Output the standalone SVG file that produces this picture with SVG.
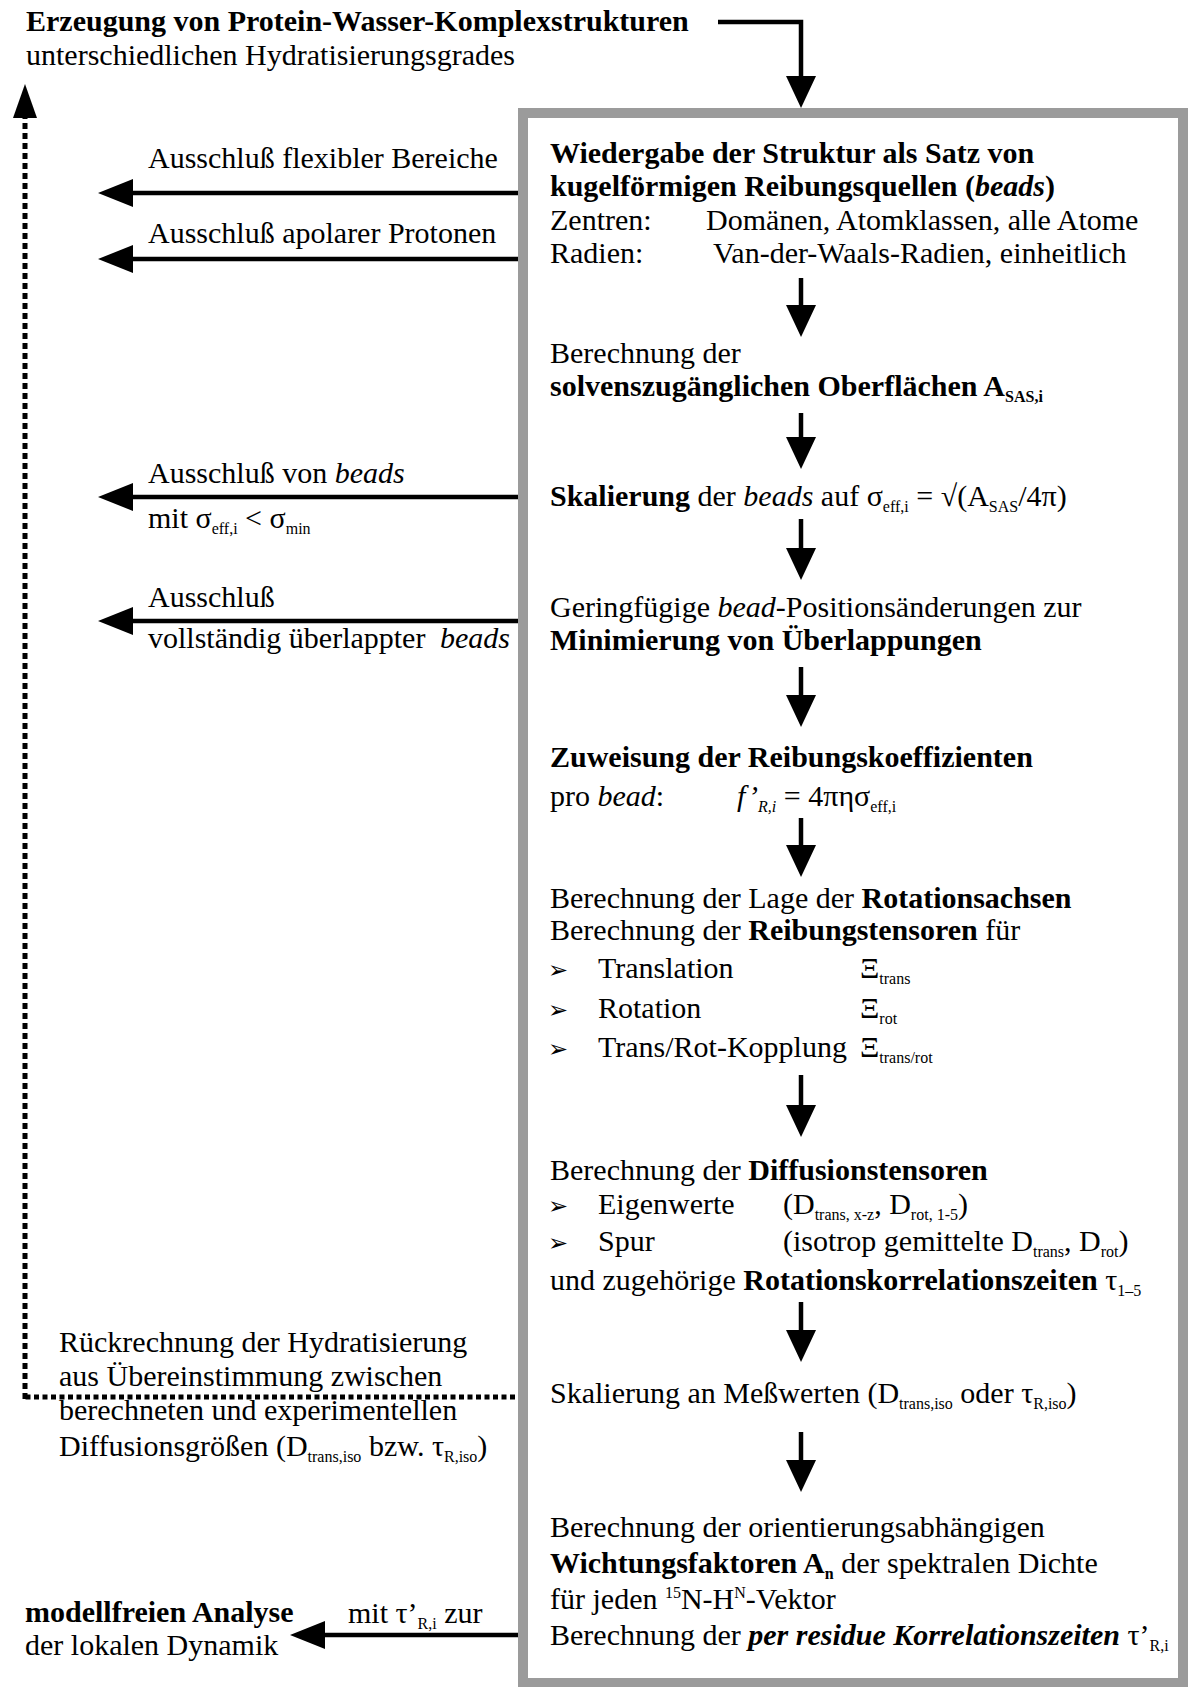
<svg xmlns="http://www.w3.org/2000/svg" width="1188" height="1687" viewBox="0 0 1188 1687">
<style>
.t{font-family:"Liberation Serif","Times New Roman",serif;font-size:30px;fill:#000}
.b{font-weight:bold}
.i{font-style:italic}
.sub{font-size:16px}
.bul{font-family:"DejaVu Sans",sans-serif;font-size:24px}
.ln{fill:none;stroke:#000;stroke-width:4.5}
.dashv{fill:none;stroke:#000;stroke-width:5;stroke-dasharray:6 4}
.dashh{fill:none;stroke:#000;stroke-width:5;stroke-dasharray:5 3.5}
.frame{fill:#fff;stroke:#9b9b9b;stroke-width:10}
</style>
<defs>
<marker id="hL" viewBox="0 0 35 28" refX="0" refY="14" markerWidth="35" markerHeight="28" markerUnits="userSpaceOnUse" orient="auto"><path d="M0,0 L35,14 L0,28 z" fill="#000"/></marker>
<marker id="hD" viewBox="0 0 32 30" refX="0" refY="15" markerWidth="32" markerHeight="30" markerUnits="userSpaceOnUse" orient="auto"><path d="M0,0 L32,15 L0,30 z" fill="#000"/></marker>
<marker id="hU" viewBox="0 0 34 24" refX="0" refY="12" markerWidth="34" markerHeight="24" markerUnits="userSpaceOnUse" orient="auto"><path d="M0,0 L34,12 L0,24 z" fill="#000"/></marker>
</defs>
<rect width="1188" height="1687" fill="#fff"/>

<g id="node-pipeline">
<rect class="frame" x="523" y="113" width="660" height="1570"/>
</g>

<g id="connectors">
<polyline class="ln" points="718,22 801,22 801,76" marker-end="url(#hD)"/>
<line class="ln" x1="801" y1="278" x2="801" y2="305" marker-end="url(#hD)"/>
<line class="ln" x1="801" y1="413" x2="801" y2="437" marker-end="url(#hD)"/>
<line class="ln" x1="801" y1="519" x2="801" y2="548" marker-end="url(#hD)"/>
<line class="ln" x1="801" y1="667" x2="801" y2="695" marker-end="url(#hD)"/>
<line class="ln" x1="801" y1="818" x2="801" y2="845" marker-end="url(#hD)"/>
<line class="ln" x1="801" y1="1075" x2="801" y2="1105" marker-end="url(#hD)"/>
<line class="ln" x1="801" y1="1302" x2="801" y2="1330" marker-end="url(#hD)"/>
<line class="ln" x1="801" y1="1432" x2="801" y2="1460" marker-end="url(#hD)"/>
<line class="ln" x1="518" y1="193" x2="133" y2="193" marker-end="url(#hL)"/>
<line class="ln" x1="518" y1="259" x2="133" y2="259" marker-end="url(#hL)"/>
<line class="ln" x1="518" y1="497" x2="133" y2="497" marker-end="url(#hL)"/>
<line class="ln" x1="518" y1="621" x2="133" y2="621" marker-end="url(#hL)"/>
<line class="ln" x1="518" y1="1635" x2="325" y2="1635" marker-end="url(#hL)"/>
<path class="dashh" d="M515,1397 H25"/>
<path class="dashv" d="M25,1399 V118" marker-end="url(#hU)"/>
</g>

<g id="node-start">
<text class="t b" x="26" y="31">Erzeugung von Protein-Wasser-Komplexstrukturen</text>
<text class="t" x="26" y="65">unterschiedlichen Hydratisierungsgrades</text>
</g>

<g id="step-beads">
<text class="t b" x="550" y="163">Wiedergabe der Struktur als Satz von</text>
<text class="t b" x="550" y="196">kugelförmigen Reibungsquellen (<tspan class="i">beads</tspan>)</text>
<text class="t" x="550" y="230">Zentren:</text>
<text class="t" x="706" y="230">Domänen, Atomklassen, alle Atome</text>
<text class="t" x="550" y="263">Radien:</text>
<text class="t" x="713" y="263">Van-der-Waals-Radien, einheitlich</text>
</g>

<g id="step-sas">
<text class="t" x="550" y="363">Berechnung der</text>
<text class="t b" x="550" y="396">solvenszugänglichen Oberflächen A<tspan class="sub" dy="6">SAS,i</tspan></text>
</g>

<g id="step-scale">
<text class="t" x="550" y="506"><tspan class="b">Skalierung</tspan> der <tspan class="i">beads</tspan> auf σ<tspan class="sub" dy="6">eff,i</tspan><tspan dy="-6"> = √(A</tspan><tspan class="sub" dy="6">SAS</tspan><tspan dy="-6">/4π)</tspan></text>
</g>

<g id="step-overlap">
<text class="t" x="550" y="617">Geringfügige <tspan class="i">bead</tspan>-Positionsänderungen zur</text>
<text class="t b" x="550" y="650">Minimierung von Überlappungen</text>
</g>

<g id="step-friction">
<text class="t b" x="550" y="767">Zuweisung der Reibungskoeffizienten</text>
<text class="t" x="550" y="806">pro <tspan class="i">bead</tspan>:</text>
<text class="t" x="737" y="806"><tspan class="i">f’</tspan><tspan class="sub i" dy="6">R,i</tspan><tspan dy="-6"> = 4πησ</tspan><tspan class="sub" dy="6">eff,i</tspan></text>
</g>

<g id="step-tensors">
<text class="t" x="550" y="908">Berechnung der Lage der <tspan class="b">Rotationsachsen</tspan></text>
<text class="t" x="550" y="940">Berechnung der <tspan class="b">Reibungstensoren</tspan> für</text>
<text class="bul" x="548" y="978">➢</text>
<text class="t" x="598" y="978">Translation</text>
<text class="t" x="860" y="978">Ξ<tspan class="sub" dy="6">trans</tspan></text>
<text class="bul" x="548" y="1018">➢</text>
<text class="t" x="598" y="1018">Rotation</text>
<text class="t" x="860" y="1018">Ξ<tspan class="sub" dy="6">rot</tspan></text>
<text class="bul" x="548" y="1057">➢</text>
<text class="t" x="598" y="1057">Trans/Rot-Kopplung</text>
<text class="t" x="860" y="1057">Ξ<tspan class="sub" dy="6">trans/rot</tspan></text>
</g>

<g id="step-diffusion">
<text class="t" x="550" y="1180">Berechnung der <tspan class="b">Diffusionstensoren</tspan></text>
<text class="bul" x="548" y="1214">➢</text>
<text class="t" x="598" y="1214">Eigenwerte</text>
<text class="t" x="783" y="1214">(D<tspan class="sub" dy="6">trans, x-z</tspan><tspan dy="-6">, D</tspan><tspan class="sub" dy="6">rot, 1-5</tspan><tspan dy="-6">)</tspan></text>
<text class="bul" x="548" y="1251">➢</text>
<text class="t" x="598" y="1251">Spur</text>
<text class="t" x="783" y="1251">(isotrop gemittelte D<tspan class="sub" dy="6">trans</tspan><tspan dy="-6">, D</tspan><tspan class="sub" dy="6">rot</tspan><tspan dy="-6">)</tspan></text>
<text class="t" x="550" y="1290">und zugehörige <tspan class="b">Rotationskorrelationszeiten</tspan> τ<tspan class="sub" dy="6">1–5</tspan></text>
</g>

<g id="step-calibrate">
<text class="t" x="550" y="1403">Skalierung an Meßwerten (D<tspan class="sub" dy="6">trans,iso</tspan><tspan dy="-6"> oder τ</tspan><tspan class="sub" dy="6">R,iso</tspan><tspan dy="-6">)</tspan></text>
</g>

<g id="step-weights">
<text class="t" x="550" y="1537">Berechnung der orientierungsabhängigen</text>
<text class="t" x="550" y="1573"><tspan class="b">Wichtungsfaktoren A</tspan><tspan class="sub b" dy="6">n</tspan><tspan dy="-6"> der spektralen Dichte</tspan></text>
<text class="t" x="550" y="1609">für jeden <tspan class="sub" dy="-11">15</tspan><tspan dy="11">N-H</tspan><tspan class="sub" dy="-11">N</tspan><tspan dy="11">-Vektor</tspan></text>
<text class="t" x="550" y="1645">Berechnung der <tspan class="b i">per residue Korrelationszeiten</tspan> τ’<tspan class="sub" dy="6">R,i</tspan></text>
</g>

<g id="label-flexible">
<text class="t" x="148" y="168">Ausschluß flexibler Bereiche</text>
</g>
<g id="label-apolar">
<text class="t" x="148" y="243">Ausschluß apolarer Protonen</text>
</g>
<g id="label-small-beads">
<text class="t" x="148" y="483">Ausschluß von <tspan class="i">beads</tspan></text>
<text class="t" x="148" y="528">mit σ<tspan class="sub" dy="6">eff,i</tspan><tspan dy="-6"> &lt; σ</tspan><tspan class="sub" dy="6">min</tspan></text>
</g>
<g id="label-overlapped">
<text class="t" x="148" y="607">Ausschluß</text>
<text class="t" x="148" y="648">vollständig überlappter <tspan class="i" dx="7">beads</tspan></text>
</g>
<g id="label-backcalc">
<text class="t" x="59" y="1352">Rückrechnung der Hydratisierung</text>
<text class="t" x="59" y="1386">aus Übereinstimmung zwischen</text>
<text class="t" x="59" y="1420">berechneten und experimentellen</text>
<text class="t" x="59" y="1456">Diffusionsgrößen (D<tspan class="sub" dy="6">trans,iso</tspan><tspan dy="-6"> bzw. τ</tspan><tspan class="sub" dy="6">R,iso</tspan><tspan dy="-6">)</tspan></text>
</g>
<g id="label-modelfree">
<text class="t" x="348" y="1623">mit τ’<tspan class="sub" dy="6">R,i</tspan><tspan dy="-6"> zur</tspan></text>
</g>
<g id="node-modelfree">
<text class="t b" x="25" y="1622">modellfreien Analyse</text>
<text class="t" x="25" y="1655">der lokalen Dynamik</text>
</g>
</svg>
